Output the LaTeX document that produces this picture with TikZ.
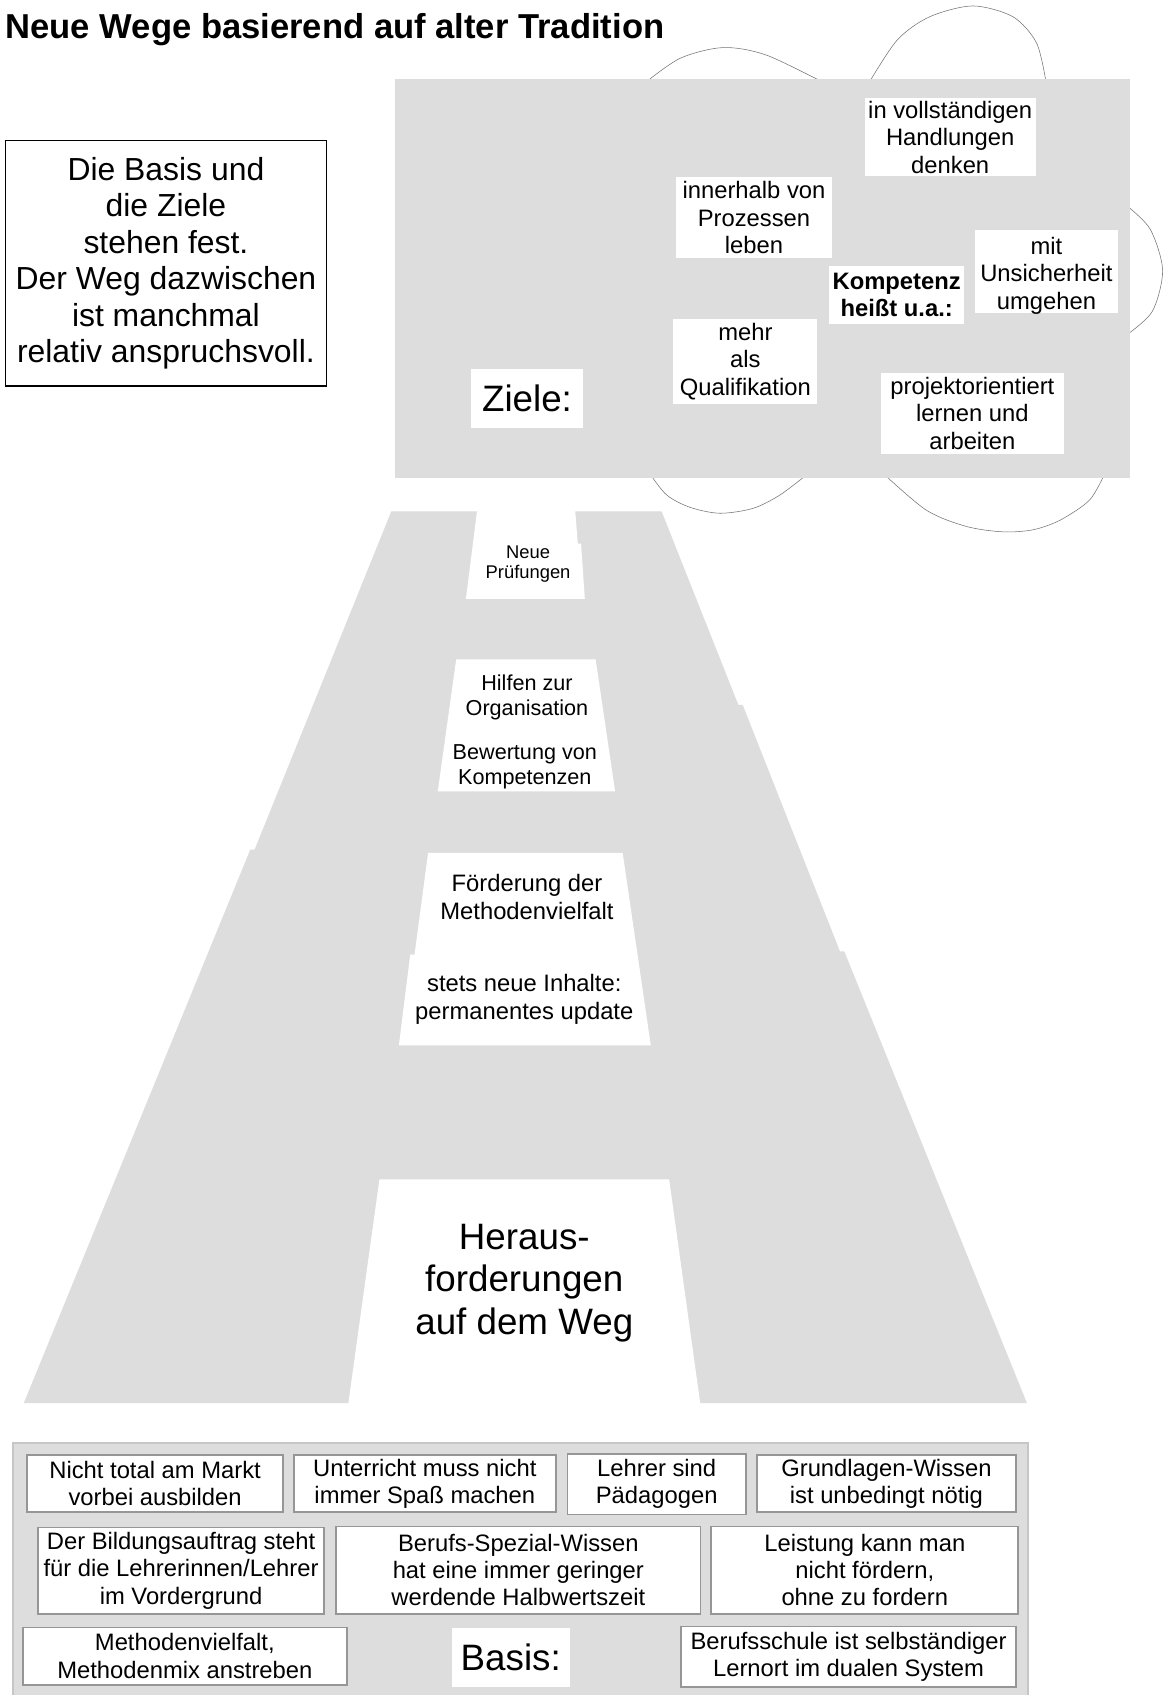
\documentclass[tikz,border=0pt]{standalone}
\usepackage{fontspec}
\setmainfont{Liberation Sans}
\begin{document}
\definecolor{roadgray}{RGB}{221,221,221}
\definecolor{cloudline}{RGB}{115,115,115}
\definecolor{boxline}{RGB}{150,150,150}
\definecolor{outerline}{RGB}{198,198,198}
\newcommand{\fsz}[2]{\fontsize{#1}{#2}\selectfont}
\tikzset{
  zbox/.style={fill=white, inner sep=0pt, align=center, font={\fsz{22}{25.5}}},
  bbox/.style={fill=white, draw=boxline, line width=1.6pt, inner sep=0pt, align=center, font={\fsz{22}{25.2}}},
  roadtext/.style={inner sep=0pt, align=center},
  cloudarc/.style={draw=cloudline, line width=0.5pt},
}
\begin{tikzpicture}[x=1pt,y=-1pt]
\useasboundingbox (0,0) rectangle (1075.9,1568);
\fill[white] (0,0) rectangle (1075.9,1568);

% title
\node[anchor=west, inner sep=0pt, font={\bfseries\fsz{32}{36}}] (title) at (5,27) {Neue Wege basierend auf alter Tradition};

% hint box
\node[draw=black, line width=1.5pt, minimum width=297, minimum height=227, inner sep=0pt, align=center, font={\fsz{29.5}{33.8}}] (hint) at (153.5,243.5)
  {Die Basis und\\die Ziele\\stehen fest.\\Der Weg dazwischen\\ist manchmal\\relativ anspruchsvoll.};

% cloud lobes
\draw[cloudarc] plot[smooth] coordinates {(595,78) (629,54) (669,44) (709,51) (765,78)};
\draw[cloudarc] plot[smooth] coordinates {(803,78) (830,37) (860,15.5) (900,5.5) (937,15.5) (959,40) (968,78)};
\draw[cloudarc] plot[smooth] coordinates {(1042,190) (1064,212) (1075.5,250) (1066,288) (1042,310)};
\draw[cloudarc] plot[smooth] coordinates {(601,438) (616.7,457.9) (638.3,469.3) (666,474.8) (696.8,470.2) (721.5,457.9) (747.7,438)};
\draw[cloudarc] plot[smooth] coordinates {(817,438) (857,472) (894,487) (928,492) (956,490) (981,481) (1008,462.5) (1022,438)};

% goals area
\fill[roadgray] (365,73) rectangle (1045,442);
\node[zbox, minimum width=158, minimum height=72] (g1) at (879,127) {in vollständigen\\Handlungen\\denken};
\node[zbox, minimum width=145, minimum height=75] (g2) at (697.5,201.5) {innerhalb von\\Prozessen\\leben};
\node[zbox, minimum width=125, minimum height=53, font={\bfseries\fsz{22}{25.5}}] (g3) at (829.5,273) {Kompetenz\\heißt u.a.:};
\node[zbox, minimum width=132, minimum height=77] (g4) at (968,251.5) {};
\node[inner sep=0pt, align=center, font={\fsz{22}{25.5}}] (g4t) at ([yshift=-3.5pt]g4.center) {mit\\Unsicherheit\\umgehen};
\node[zbox, minimum width=133, minimum height=79] (g5) at (689.5,334.5) {mehr\\als\\Qualifikation};
\node[zbox, minimum width=169, minimum height=75] (g6) at (899.5,382.5) {projektorientiert\\lernen und\\arbeiten};
\node[zbox, minimum width=103, minimum height=55, font={\fsz{34}{39}}] (ziele) at (487.5,368.5) {Ziele:};

% road
\fill[roadgray] (362,473) -- (612,473) -- (683,652) -- (687,652) -- (777,880) -- (781,880) -- (950,1298) -- (22,1298) -- (231.5,786) -- (235.5,786) -- cycle;
\fill[white] (441.5,471) -- (532,471) -- (534.5,503) -- (537.5,503) -- (541,554) -- (431,554) -- cycle;
\fill[white] (422,610) -- (551,610) -- (569,732) -- (405,732) -- cycle;
\fill[white] (396,789) -- (576,789) -- (602,967) -- (369,967) -- (379.5,883) -- (383.5,883) -- cycle;
\fill[white] (351,1091) -- (619,1091) -- (648,1300) -- (322,1300) -- cycle;

\node[roadtext, font={\fsz{17}{19}}] (r1) at (488.5,522) {Neue\\Prüfungen};
\node[roadtext, font={\fsz{20}{23}}] (r2a) at (487.5,645.5) {Hilfen zur\\Organisation};
\node[roadtext, font={\fsz{20}{23}}] (r2b) at (485.5,709) {Bewertung von\\Kompetenzen};
\node[roadtext, font={\fsz{22}{25.5}}] (r3a) at (487.5,830) {Förderung der\\Methodenvielfalt};
\node[roadtext, font={\fsz{22}{25.5}}] (r3b) at (485,924.5) {stets neue Inhalte:\\permanentes update};
\node[roadtext, font={\fsz{34}{39.3}}] (r4) at (485,1187) {Heraus-\\forderungen\\auf dem Weg};

% basis
\draw[fill=roadgray, draw=outerline, line width=2pt] (12,1335) rectangle (951,1590);
\node[bbox, minimum width=237, minimum height=53] (b1) at (143.5,1372.5) {Nicht total am Markt\\vorbei ausbilden};
\node[bbox, minimum width=242, minimum height=53] (b2) at (393,1372.5) {Unterricht muss nicht\\immer Spaß machen};
\node[bbox, minimum width=165, minimum height=56] (b3) at (607.5,1373) {Lehrer sind\\Pädagogen};
\node[bbox, minimum width=240, minimum height=53] (b4) at (820,1372.5) {Grundlagen-Wissen\\ist unbedingt nötig};
\node[bbox, minimum width=265, minimum height=80] (b5) at (167.5,1453) {Der Bildungsauftrag steht\\für die Lehrerinnen/Lehrer\\im Vordergrund};
\node[bbox, minimum width=337, minimum height=81] (b6) at (479.5,1452.5) {Berufs-Spezial-Wissen\\hat eine immer geringer\\werdende Halbwertszeit};
\node[bbox, minimum width=284, minimum height=81] (b7) at (800,1452.5) {Leistung kann man\\nicht fördern,\\ohne zu fordern};
\node[bbox, minimum width=300, minimum height=53] (b8) at (171,1532) {Methodenvielfalt,\\Methodenmix anstreben};
\node[fill=white, inner sep=0pt, minimum width=109, minimum height=55, font={\fsz{34}{39}}] (basis) at (472.5,1533.5) {Basis:};
\node[bbox, minimum width=310, minimum height=56] (b9) at (785,1532.5) {Berufsschule ist selbständiger\\Lernort im dualen System};
\end{tikzpicture}
\end{document}
